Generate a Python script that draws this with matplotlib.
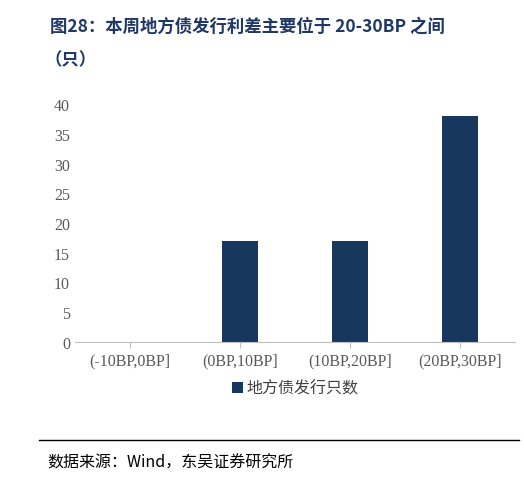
import matplotlib
matplotlib.use('Agg')
import matplotlib.pyplot as plt
from matplotlib.lines import Line2D

plt.rcParams['font.family'] = ['Noto Sans CJK SC', 'DejaVu Sans']

categories = ['(-10BP,0BP]', '(0BP,10BP]', '(10BP,20BP]', '(20BP,30BP]']
values = [0, 17, 17, 38]
yticks = [0, 5, 10, 15, 20, 25, 30, 35, 40]

fig = plt.figure(figsize=(5.24, 4.89), dpi=100)
ax = fig.add_axes([0.143, 0.299, 0.84, 0.486])
ax.bar(range(len(categories)), values, width=0.33, color='#17375E', label='地方债发行只数')
ax.set_xlim(-0.5, len(categories) - 0.5)
ax.set_ylim(0, 40)
ax.set_yticks(yticks)
ax.set_xticks(range(len(categories)))
ax.set_xticklabels(categories, family=['Liberation Serif', 'DejaVu Serif'], fontsize=11.5, color='#595959')
for lab in ax.get_yticklabels():
    lab.set_family(['Liberation Serif', 'DejaVu Serif'])
    lab.set_fontsize(11.5)
    lab.set_color('#595959')
for s in ['top', 'right', 'left']:
    ax.spines[s].set_visible(False)
ax.spines['bottom'].set_color('#BFBFBF')
ax.tick_params(axis='y', length=0)
ax.tick_params(axis='x', length=4, color='#BFBFBF')
ax.legend(loc='upper center', bbox_to_anchor=(0.5, -0.1), frameon=False, fontsize=11.5,
          handlelength=0.7, handleheight=0.7, handletextpad=0.2, labelcolor='#404040')

fig.text(0.095, 0.945, '图28：本周地方债发行利差主要位于 20-30BP 之间', fontsize=12.5, fontweight='bold', color='#1F3864', va='center')
fig.text(0.085, 0.877, '（只）', fontsize=12.5, fontweight='bold', color='#1F3864', va='center')
fig.add_artist(Line2D([0.075, 0.99], [0.098, 0.098], color='black', lw=1))
fig.text(0.09, 0.053, '数据来源：Wind，东吴证券研究所', fontsize=11.5, color='black', va='center')

fig.savefig('out.png', dpi=100)
